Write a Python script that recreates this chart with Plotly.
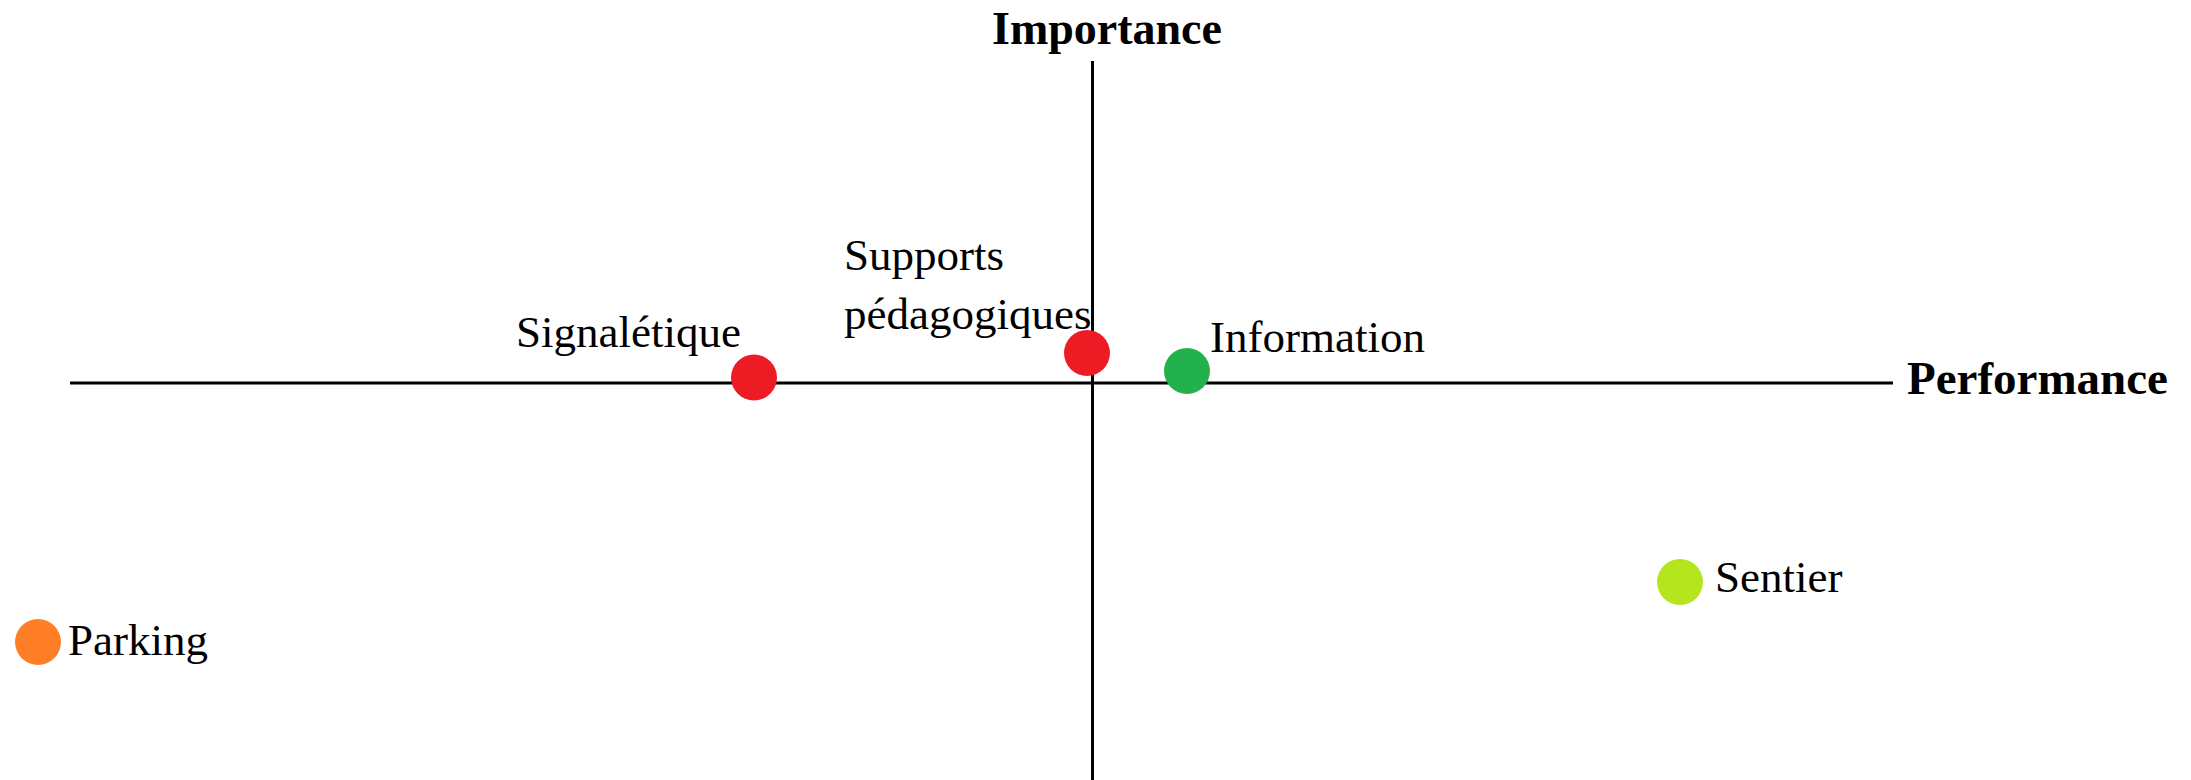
import plotly.graph_objects as go

# Importance / performance grid
criteres = ["Parking", "Signalétique", "Supports<br>pédagogiques", "Information", "Sentier"]
performance = [-10.54, -3.38, -0.05, 0.95, 5.88]
importance = [-2.59, 0.055, 0.30, 0.12, -1.99]
couleurs = ["#FF7F27", "#ED1C24", "#ED1C24", "#22B14C", "#B5E61D"]

FONT = "Liberation Serif"
X_RANGE = [-10.84, 8.01]
Y_RANGE = [-3.97, 3.22]
AXE_X_DEBUT = -10.22  # the horizontal axis starts a little right of the plot edge

fig = go.Figure()
fig.add_trace(go.Scatter(
    x=performance,
    y=importance,
    mode="markers",
    marker=dict(size=46, color=couleurs, line=dict(width=0)),
    cliponaxis=False,
    hovertext=criteres,
    hoverinfo="text",
    showlegend=False,
))

# label placement per point: (xanchor, xshift, yshift)
placement = [
    ("left", 28, 2),
    ("right", -11, 46),
    ("left", -245, 69),
    ("left", 21, 34),
    ("left", 33, 5),
]
for nom, px, py, (anchor, dx, dy) in zip(criteres, performance, importance, placement):
    fig.add_annotation(
        x=px, y=py, xref="x", yref="y", text=nom, showarrow=False,
        xanchor=anchor, yanchor="middle", xshift=dx, yshift=dy, align="left",
        font=dict(family=FONT, size=45, color="black"),
    )

fig.add_annotation(
    x=0, y=1.05, xref="x", yref="paper", text="<b>Importance</b>", showarrow=False,
    xanchor="center", yanchor="middle", xshift=15, yshift=-3,
    font=dict(family=FONT, size=46, color="black"),
)
fig.add_annotation(
    x=X_RANGE[1], y=0, xref="x", yref="y", text="<b>Performance</b>", showarrow=False,
    xanchor="left", yanchor="middle", xshift=12, yshift=5,
    font=dict(family=FONT, size=47, color="black"),
)

# horizontal axis as a line, vertical axis as the x zeroline
fig.add_shape(type="line", x0=AXE_X_DEBUT, x1=X_RANGE[1], y0=0, y1=0,
              xref="x", yref="y", layer="below", line=dict(color="black", width=3))

axe = dict(showgrid=False, showticklabels=False, ticks="", showline=False, fixedrange=True)
fig.update_xaxes(range=X_RANGE, zeroline=True, zerolinecolor="black", zerolinewidth=3, **axe)
fig.update_yaxes(range=Y_RANGE, zeroline=False, **axe)

# the page body has an 8px margin, so margins are shifted by 8px
fig.update_layout(
    width=2191,
    height=780,
    margin=dict(l=0, r=306, t=53, b=8),
    plot_bgcolor="white",
    paper_bgcolor="white",
)

fig.write_html("out.html")
